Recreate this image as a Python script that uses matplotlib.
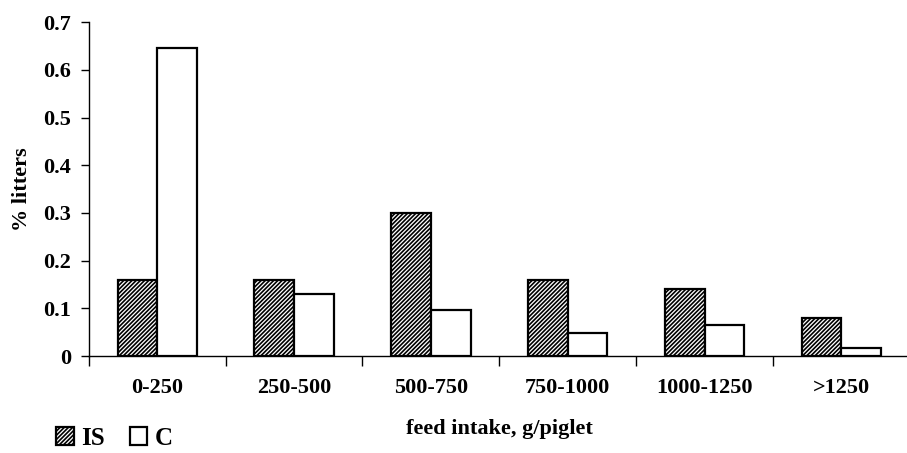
import matplotlib
matplotlib.use('Agg')
import matplotlib.pyplot as plt
import numpy as np

# datos
categorias = ['0-250', '250-500', '500-750', '750-1000', '1000-1250', '>1250']
is_vals = [0.16, 0.16, 0.30, 0.16, 0.14, 0.08]
c_vals = [0.645, 0.13, 0.097, 0.048, 0.065, 0.016]

plt.rcParams['font.family'] = 'Liberation Serif'
plt.rcParams['font.weight'] = 'bold'
plt.rcParams['hatch.linewidth'] = 1.2

fig = plt.figure(figsize=(9.07, 4.53), dpi=100)
ax = fig.add_axes([0.098, 0.214, 0.905, 0.737])

x = np.arange(len(categorias))
w = 0.29
ax.bar(x - w / 2, is_vals, w, facecolor='white', edgecolor='black',
       linewidth=1.6, hatch='////////', label='IS')
ax.bar(x + w / 2, c_vals, w, facecolor='white', edgecolor='black',
       linewidth=1.6, label='C')

ax.set_xlim(-0.5, len(categorias) - 0.5)
ax.set_ylim(0, 0.7)
ax.set_yticks(np.arange(0, 0.71, 0.1))
ax.set_yticklabels(['0'] + ['%.1f' % v for v in np.arange(0.1, 0.71, 0.1)])
ax.set_xticks(x)
ax.set_xticklabels(categorias)
ax.set_xticks(np.arange(-0.5, len(categorias), 1), minor=True)
ax.tick_params(axis='x', which='major', length=0, pad=16, labelsize=16)
ax.tick_params(axis='x', which='minor', length=7, width=1)
ax.tick_params(axis='y', length=6, width=1, labelsize=16, pad=7)

for s in ['top', 'right']:
    ax.spines[s].set_visible(False)
ax.spines['left'].set_linewidth(1)
ax.spines['bottom'].set_linewidth(1)

ax.set_ylabel('% litters', fontsize=16, fontweight='bold', labelpad=8)
ax.set_xlabel('feed intake, g/piglet', fontsize=16, fontweight='bold', labelpad=15)

fig.legend(loc='center left', bbox_to_anchor=(0.062, 0.033), ncol=2,
           frameon=False, prop={'size': 18, 'weight': 'bold'},
           handlelength=0.7, handleheight=0.7, handletextpad=0.3,
           columnspacing=1.0, borderpad=0, borderaxespad=0)

plt.savefig('out.png', dpi=100)
